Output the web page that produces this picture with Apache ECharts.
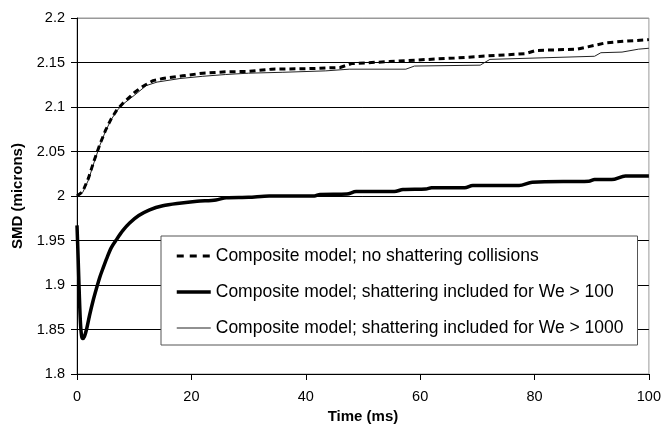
<!DOCTYPE html>
<html>
<head>
<meta charset="utf-8">
<script src="https://cdn.jsdelivr.net/npm/echarts@6/dist/echarts.min.js"></script>
<style>
  html, body { margin: 0; padding: 0; background: #fff; }
  #chart { width: 664px; height: 429px; }
</style>
</head>
<body>
<div id="chart"></div>
<script>
// Sauter mean diameter vs time for three collision models
const seriesNames = [
  'Composite model; no shattering collisions',
  'Composite model; shattering included for We > 100',
  'Composite model; shattering included for We > 1000'
];

// No shattering collisions (dashed)
const timeNoShatter = [0, 1, 2, 3, 4, 5, 6, 7, 8, 9, 10, 11, 12, 13.3, 15, 18.5, 22, 26, 30, 34, 40, 46, 48, 54.6, 61.5, 66, 70.8, 78.4, 80.2, 87.5, 92.4, 95.9, 100];
const smdNoShatter = [2.0, 2.005, 2.02, 2.04, 2.058, 2.074, 2.087, 2.097, 2.104, 2.11, 2.116, 2.121, 2.125, 2.1296, 2.132, 2.135, 2.138, 2.1395, 2.140, 2.1425, 2.143, 2.1444, 2.1488, 2.151, 2.1535, 2.155, 2.157, 2.160, 2.1635, 2.165, 2.172, 2.174, 2.1757];

// Shattering for We > 100 (thick)
const timeWe100 = [0, 0.2, 0.4, 0.6, 0.8, 1.0, 1.3, 1.7, 2.2, 2.8, 3.4, 4.0, 4.5, 5.2, 6.0, 6.9, 8.0, 9.2, 10.8, 12.7, 15, 17.9, 21, 24.3, 26.1, 30, 33.6, 41.5, 42.5, 47.2, 48.8, 55.5, 57, 61, 62, 67.8, 69.2, 77.3, 79.6, 89.5, 90.5, 93.5, 95.9, 100];
const smdWe100 = [1.967, 1.93, 1.89, 1.858, 1.843, 1.8398, 1.842, 1.851, 1.866, 1.882, 1.896, 1.909, 1.918, 1.930, 1.942, 1.951, 1.961, 1.9696, 1.978, 1.9845, 1.989, 1.9918, 1.994, 1.9956, 1.998, 1.9985, 2.0, 2.0, 2.0018, 2.0022, 2.005, 2.005, 2.0073, 2.0078, 2.0092, 2.0092, 2.0118, 2.0118, 2.0155, 2.0166, 2.0184, 2.0184, 2.0225, 2.0225];

// Shattering for We > 1000 (thin)
const timeWe1000 = [0, 1, 2, 3, 4, 5, 6, 7, 8, 9, 10, 12.1, 14, 18, 22, 26, 30, 36, 43.5, 47.6, 57.5, 59, 70.5, 72.2, 90.5, 91.6, 95.3, 98.2, 100];
const smdWe1000 = [2.0, 2.004, 2.018, 2.038, 2.057, 2.073, 2.086, 2.096, 2.103, 2.108, 2.113, 2.124, 2.128, 2.132, 2.1345, 2.1365, 2.138, 2.139, 2.1406, 2.1425, 2.1425, 2.146, 2.147, 2.1535, 2.157, 2.161, 2.1617, 2.165, 2.166];

const xTicks = { min: 0, max: 100, interval: 20 };
const yTicks = { min: 1.8, max: 2.2, interval: 0.05 };

function pairs(xs, ys) { return xs.map((x, i) => [x, ys[i]]); }

const FONT = '"Liberation Sans", Arial, Helvetica, sans-serif';
const chart = echarts.init(document.getElementById('chart'), null, { renderer: 'canvas' });

// legend swatches show only the line, no point marker
const hiddenMarker = { opacity: 0, color: 'transparent', borderWidth: 0 };

chart.setOption({
  animation: false,
  backgroundColor: '#fff',
  grid: {
    left: 77, right: 14, top: 18, bottom: 49,
    show: true, borderColor: '#999', borderWidth: 1, backgroundColor: 'transparent'
  },
  xAxis: {
    type: 'value',
    min: xTicks.min, max: xTicks.max, interval: xTicks.interval,
    name: 'Time (ms)', nameLocation: 'middle', nameGap: 35,
    nameTextStyle: { fontFamily: FONT, fontWeight: 'bold', fontSize: 15, color: '#000' },
    axisLine: { lineStyle: { color: '#000', width: 1 } },
    axisTick: { length: 6, lineStyle: { color: '#000' } },
    axisLabel: { fontFamily: FONT, fontSize: 14.5, color: '#000', margin: 15 },
    splitLine: { show: false }
  },
  yAxis: {
    type: 'value',
    min: yTicks.min, max: yTicks.max, interval: yTicks.interval,
    name: 'SMD (microns)', nameLocation: 'middle', nameGap: 52,
    nameTextStyle: { fontFamily: FONT, fontWeight: 'bold', fontSize: 15, color: '#000' },
    axisLine: { show: true, lineStyle: { color: '#000', width: 1 } },
    axisTick: { show: true, length: 6, lineStyle: { color: '#000' } },
    axisLabel: {
      fontFamily: FONT, fontSize: 14.5, color: '#000', margin: 12,
      formatter: v => String(Math.round(v * 100) / 100)
    },
    splitLine: {
      show: true,
      lineStyle: { color: ['#000', '#000', '#000', '#000', '#000', '#000', '#000', '#000', '#999'], width: 1 }
    }
  },
  legend: {
    orient: 'vertical',
    left: 161, top: 236,
    itemWidth: 34, itemHeight: 14, itemGap: 18,
    padding: [11, 14, 8, 14],
    backgroundColor: '#fff',
    borderColor: '#555', borderWidth: 1, borderRadius: 0,
    textStyle: { fontFamily: FONT, fontSize: 17.5, color: '#000' },
    data: [
      { name: seriesNames[0], itemStyle: hiddenMarker, lineStyle: { width: 3, type: [7, 6], color: '#000' } },
      { name: seriesNames[1], itemStyle: hiddenMarker, lineStyle: { width: 3.5, color: '#000' } },
      { name: seriesNames[2], itemStyle: hiddenMarker, lineStyle: { width: 1, color: '#222' } }
    ]
  },
  series: [
    {
      name: seriesNames[0], type: 'line', symbol: 'none',
      data: pairs(timeNoShatter, smdNoShatter),
      itemStyle: { color: '#000' },
      lineStyle: { color: '#000', width: 3, type: [6, 4] }, z: 3
    },
    {
      name: seriesNames[1], type: 'line', symbol: 'none', smooth: 0.3,
      data: pairs(timeWe100, smdWe100),
      itemStyle: { color: '#000' },
      lineStyle: { color: '#000', width: 3.5 }, z: 3
    },
    {
      name: seriesNames[2], type: 'line', symbol: 'none',
      data: pairs(timeWe1000, smdWe1000),
      itemStyle: { color: '#222' },
      lineStyle: { color: '#222', width: 1 }, z: 2
    }
  ]
});
</script>
</body>
</html>
